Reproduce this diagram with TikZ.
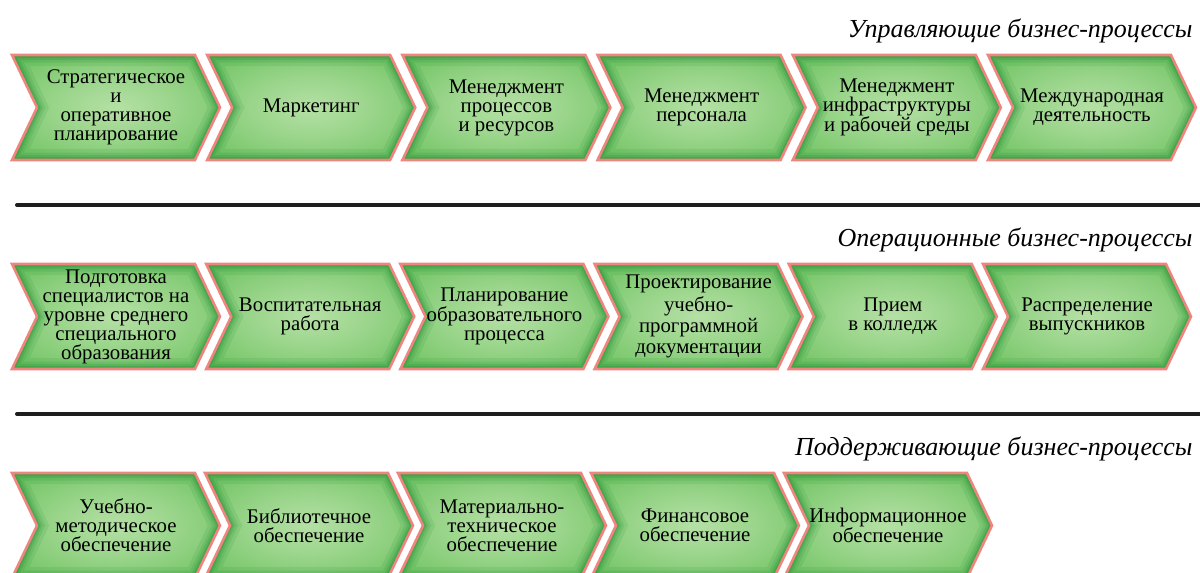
\documentclass[tikz,border=0pt]{standalone}
\usepackage{fontspec}
\setmainfont{Liberation Serif}
\usetikzlibrary{shapes.symbols}

\definecolor{gLight}{HTML}{B5E0A5}
\definecolor{gMid}{HTML}{74C566}
\definecolor{gDark}{HTML}{1F8F34}
\definecolor{edgepink}{HTML}{EE857F}
\definecolor{rulegray}{HTML}{1E1E1E}

\pgfdeclareradialshading{chevglow}{\pgfpoint{0bp}{0bp}}{%
  color(0bp)=(gLight); color(14bp)=(gLight!60!gMid); color(32bp)=(gMid);
  color(50bp)=(gMid!85!gDark); color(100bp)=(gMid!85!gDark)}

\tikzset{
  chev/.style={signal, signal from=west, signal to=east, signal pointer angle=129,
    minimum width=208pt, minimum height=105pt, inner sep=0pt, align=center,
    draw=edgepink, line width=2.6pt, shading=chevglow,
    font=\fontsize{20.8}{19}\selectfont,
    path picture={
      % darker rim along the inside of the border
      \foreach \w/\o in {22/0.12, 15/0.15, 10/0.2, 6/0.28, 3/0.35}
        \draw[gDark, line width=\w pt, opacity=\o]
          (path picture bounding box.north west)
          -- ([xshift=-25pt]path picture bounding box.north east)
          -- (path picture bounding box.east)
          -- ([xshift=-25pt]path picture bounding box.south east)
          -- (path picture bounding box.south west)
          -- ([xshift=25pt]path picture bounding box.west) -- cycle;
    }},
  grouptitle/.style={anchor=base east, font=\fontsize{26}{28}\selectfont\itshape},
  rowrule/.style={draw=rulegray, line width=4pt, line cap=round},
}

\begin{document}
\begin{tikzpicture}[x=1pt, y=-1pt]
  \clip (0,0) rectangle (1200,573);

  % management processes
  \node[grouptitle] (mgmttitle) at (1196,37) {Управляющие бизнес-процессы};
  \foreach \txt [count=\i] in {
      {Стратегическое\\и\\оперативное\\планирование},
      {Маркетинг},
      {Менеджмент\\процессов\\и ресурсов},
      {Менеджмент\\персонала},
      {Менеджмент\\инфраструктуры\\и рабочей среды},
      {Международная\\деятельность}}
    \node[chev] (mgmt\i) at ({116+195.2*(\i-1)},107.5) {\txt};

  \draw[rowrule] (17,205) -- (1204,205);

  % operational processes
  \node[grouptitle] (opstitle) at (1196,246) {Операционные бизнес-процессы};
  \foreach \txt [count=\i] in {
      {Подготовка\\специалистов на\\уровне среднего\\специального\\образования},
      {Воспитательная\\работа},
      {Планирование\\образовательного\\процесса},
      {Проектирование\\[2pt]учебно-\\[2pt]программной\\[2pt]документации},
      {Прием\\в колледж},
      {Распределение\\выпускников}}
    \node[chev] (ops\i) at ({116+194.2*(\i-1)},316.5) {\txt};

  \draw[rowrule] (17,414) -- (1204,414);

  % supporting processes
  \node[grouptitle] (supptitle) at (1196,455) {Поддерживающие бизнес-процессы};
  \foreach \txt [count=\i] in {
      {Учебно-\\методическое\\обеспечение},
      {Библиотечное\\обеспечение},
      {Материально-\\техническое\\обеспечение},
      {Финансовое\\обеспечение},
      {Информационное\\обеспечение}}
    \node[chev] (supp\i) at ({116+193*(\i-1)},525.5) {\txt};
\end{tikzpicture}
\end{document}
